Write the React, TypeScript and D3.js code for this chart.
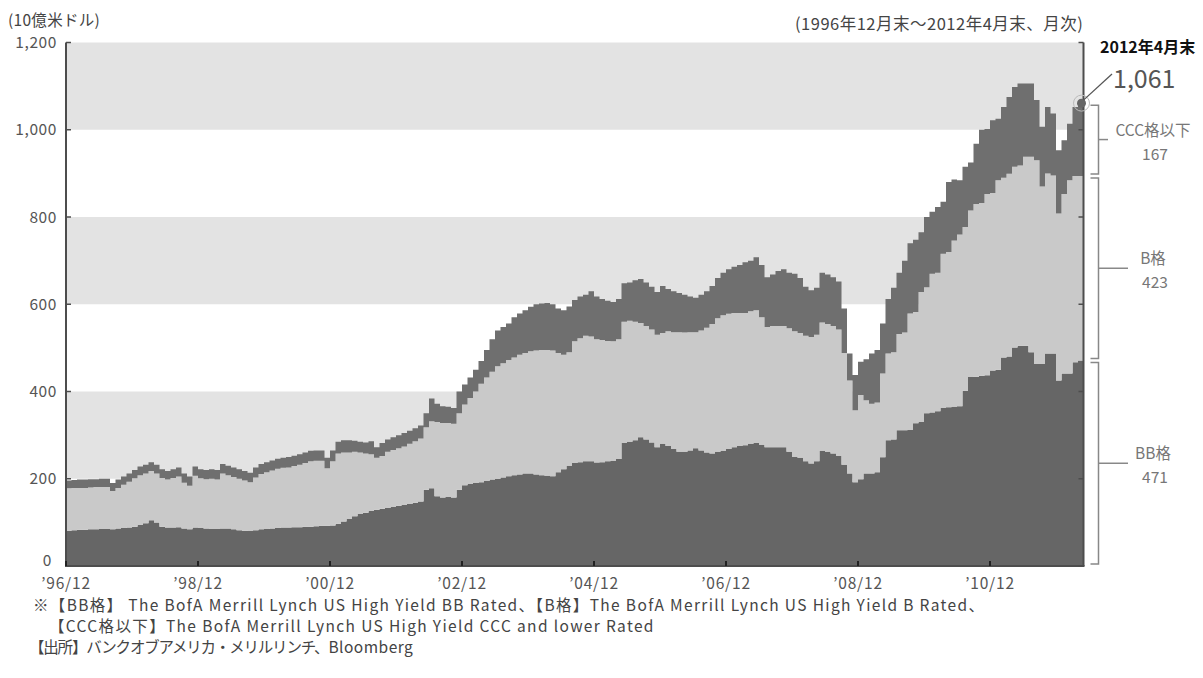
import * as d3 from "d3";

// 月次データ（1996年12月末〜2012年4月末）, 単位: 10億米ドル
const BB = [
  81, 82, 83, 83, 84, 84, 85, 85, 84, 86, 87, 88, 90,
  94, 98, 105, 100, 90, 88, 88, 89, 86, 84, 88, 87,
  86, 85, 85, 86, 86, 84, 82, 81, 80, 82, 84, 85,
  86, 87, 88, 88, 89, 89, 90, 90, 91, 92, 92, 93,
  97, 102, 108, 114, 119, 122, 126, 129, 131, 133, 135, 138,
  140, 142, 145, 148, 175, 178, 160, 157, 158, 157, 175, 185,
  188, 190, 192, 195, 198, 200, 203, 206, 208, 210, 212, 212,
  210, 208, 207, 206, 215, 222, 230, 236, 238, 240, 240, 237,
  238, 240, 241, 245, 282, 285, 288, 295, 290, 283, 272, 280,
  275, 268, 262, 262, 265, 270, 265, 260, 258, 262, 264, 268,
  272, 275, 277, 280, 282, 278, 272, 272, 272, 272, 262, 250,
  248, 240, 235, 240, 264, 262, 258, 252, 232, 212, 192, 199,
  212, 212, 215, 249, 288, 290, 311, 311, 312, 327, 330, 350,
  352, 355, 362, 364, 365, 366, 402, 433, 434, 436, 437, 448,
  450, 478, 480, 501, 505, 505, 490, 463, 463, 487, 487, 425,
  441, 441, 467, 471,
];
const B = [
  97, 97, 96, 96, 96, 97, 96, 96, 88, 93, 99, 105, 111,
  114, 114, 113, 112, 112, 110, 114, 116, 105, 100, 119, 114,
  113, 115, 113, 126, 122, 120, 118, 115, 112, 121, 127, 130,
  133, 136, 137, 138, 140, 143, 146, 150, 150, 149, 132, 147,
  161, 158, 152, 148, 141, 136, 130, 119, 121, 129, 131, 132,
  134, 138, 141, 144, 143, 154, 170, 171, 170, 169, 175, 185,
  197, 210, 226, 237, 247, 258, 262, 266, 270, 274, 276, 280,
  284, 287, 288, 288, 273, 262, 260, 279, 284, 288, 286, 283,
  280, 276, 274, 275, 278, 277, 272, 262, 260, 259, 258, 254,
  263, 268, 274, 273, 271, 266, 275, 286, 297, 306, 311, 310,
  308, 305, 303, 304, 304, 292, 276, 278, 278, 278, 283, 288,
  286, 288, 290, 290, 294, 293, 292, 290, 256, 213, 165, 193,
  168, 160, 160, 192, 199, 200, 221, 224, 267, 255, 298, 289,
  318, 317, 354, 356, 381, 394, 375, 382, 396, 396, 416, 407,
  434, 412, 419, 414, 413, 433, 448, 467, 407, 413, 408, 383,
  412, 443, 427, 423,
];
const CCC = [
  18, 18, 19, 19, 19, 18, 19, 19, 18, 19, 19, 19, 19,
  20, 20, 20, 20, 20, 20, 20, 21, 21, 21, 21, 21,
  21, 22, 22, 22, 22, 22, 22, 22, 22, 23, 23, 23,
  23, 23, 23, 24, 24, 24, 24, 24, 24, 24, 24, 25,
  27, 28, 28, 25, 25, 25, 30, 24, 30, 28, 29, 30,
  31, 30, 30, 30, 32, 52, 42, 38, 37, 36, 50, 46,
  47, 50, 52, 63, 75, 82, 83, 84, 92, 95, 98, 102,
  106, 107, 108, 106, 102, 102, 105, 95, 96, 94, 104, 98,
  94, 92, 90, 92, 88, 88, 95, 101, 100, 98, 98, 108,
  97, 94, 90, 87, 82, 79, 82, 84, 87, 92, 97, 102,
  106, 110, 116, 116, 122, 120, 114, 118, 126, 130, 127, 132,
  126, 112, 107, 108, 114, 113, 112, 110, 102, 62, 81, 76,
  94, 115, 120, 115, 125, 148, 140, 165, 161, 166, 137, 161,
  142, 151, 119, 160, 140, 124, 138, 110, 138, 168, 149, 167,
  141, 162, 176, 183, 188, 168, 168, 138, 137, 152, 142, 145,
  123, 130, 158, 167,
];

const SERIES_KEYS = ["bb", "b", "ccc"] as const;
const SERIES_NAMES = ["BB格", "B格", "CCC格以下"];
const SERIES_COLORS = ["#666666", "#c9c9c9", "#6f6f6f"];

const Y_TICKS = [0, 200, 400, 600, 800, 1000, 1200];
const Y_LABELS = ["0", "200", "400", "600", "800", "1,000", "1,200"];
const BANDS: [number, number][] = [[200, 400], [600, 800], [1000, 1200]];
const X_TICKS = [0, 24, 48, 72, 96, 120, 144, 168];
const X_LABELS = ["’96/12", "’98/12", "’00/12", "’02/12", "’04/12", "’06/12", "’08/12", "’10/12"];

const UNIT = "(10億米ドル)";
const PERIOD = "(1996年12月末～2012年4月末、月次)";
const LAST_LABEL = "2012年4月末";
const NOTES = [
  "※【BB格】 The BofA Merrill Lynch US High Yield BB Rated、【B格】The BofA Merrill Lynch US High Yield B Rated、",
  "【CCC格以下】The BofA Merrill Lynch US High Yield CCC and lower Rated",
];
const SOURCE_JA = "【出所】バンクオブアメリカ・メリルリンチ、";
const SOURCE_EN = "Bloomberg";

const FONT = "'Noto Sans CJK JP', 'Noto Sans', sans-serif";
const W = 1203;
const H = 678;
const AXIS = "#4d4d4d";

type Row = { i: number; bb: number; b: number; ccc: number };

export default function App() {
  const n = BB.length;
  const rows: Row[] = BB.map((v, i) => ({ i, bb: v, b: B[i], ccc: CCC[i] }));
  // 最終月の階段を右端まで伸ばすための終端
  rows.push({ ...rows[n - 1], i: n });

  const x = d3.scaleLinear().domain([0, n]).range([66, 1083.5]);
  const y = d3.scaleLinear().domain([0, 1200]).range([566, 42.5]);
  const x0 = x(0);
  const x1 = x(n);

  const stacked = d3.stack<Row>().keys(SERIES_KEYS as unknown as string[])(rows);
  const area = d3
    .area<d3.SeriesPoint<Row>>()
    .x((d) => x(d.data.i))
    .y0((d) => y(d[0]))
    .y1((d) => y(d[1]))
    .curve(d3.curveStepAfter);

  const last = rows[n - 1];
  const total = last.bb + last.b + last.ccc;
  const segs = [
    { lo: 0, hi: last.bb, v: last.bb, name: SERIES_NAMES[0], tick: 1128 },
    { lo: last.bb, hi: last.bb + last.b, v: last.b, name: SERIES_NAMES[1], tick: 1128 },
    { lo: last.bb + last.b, hi: total, v: last.ccc, name: SERIES_NAMES[2], tick: 1108 },
  ];
  const bx = 1098.5;

  return (
    <svg
      width={W}
      height={H}
      style={{ position: "absolute", left: 0, top: 0, background: "#fff" }}
      fontFamily={FONT}
    >
      {/* 背景の帯 */}
      {BANDS.map(([lo, hi]) => (
        <rect key={lo} x={x0} y={y(hi)} width={x1 - x0} height={y(lo) - y(hi)} fill="#e3e3e3" />
      ))}

      {/* 積み上げ面 */}
      {stacked.map((s, k) => (
        <path key={s.key} d={area(s) ?? ""} fill={SERIES_COLORS[k]} />
      ))}

      {/* 軸 */}
      <line x1={x0} x2={x0} y1={y(1200)} y2={y(0)} stroke={AXIS} strokeWidth={2} />
      <line x1={x1} x2={x1} y1={y(1200)} y2={y(0)} stroke={AXIS} strokeWidth={2} />
      <line x1={x0 - 1} x2={x1 + 1} y1={y(0)} y2={y(0)} stroke={AXIS} strokeWidth={2} />
      {Y_TICKS.map((t) => (
        <g key={t}>
          <line x1={x0} x2={x0 + 5} y1={y(t)} y2={y(t)} stroke={AXIS} strokeWidth={1.5} />
          <line x1={x1} x2={x1 - 5} y1={y(t)} y2={y(t)} stroke={AXIS} strokeWidth={1.5} />
        </g>
      ))}
      {X_TICKS.map((t) => (
        <line key={t} x1={x(t)} x2={x(t)} y1={y(0)} y2={y(0) - 5} stroke="#222" strokeWidth={2} />
      ))}

      {/* 目盛りラベル */}
      {Y_TICKS.map((t, k) => (
        <text
          key={t}
          x={t === 0 ? 52 : 57}
          y={y(t) + (t === 0 ? 0 : 5.5)}
          textAnchor="end"
          fontSize={15.5}
          letterSpacing={0.6}
          fill="#555"
        >
          {Y_LABELS[k]}
        </text>
      ))}
      {X_TICKS.map((t, k) => (
        <text
          key={t}
          x={x(t)}
          y={589}
          textAnchor="middle"
          fontSize={15.5}
          letterSpacing={0.8}
          fill="#555"
        >
          {X_LABELS[k]}
        </text>
      ))}

      {/* 見出し */}
      <text x={8} y={26} fontSize={15.5} letterSpacing={0.3} fill="#444">{UNIT}</text>
      <text x={795} y={30} fontSize={16.5} letterSpacing={0.5} fill="#444">{PERIOD}</text>

      {/* 直近値 */}
      <circle cx={x1 - 2} cy={y(total)} r={8} fill="none" stroke="#bbb" strokeWidth={1} />
      <circle cx={x1 - 2} cy={y(total)} r={4.5} fill="#666" />
      <line x1={x1} y1={y(total) - 3} x2={1112} y2={74} stroke="#555" strokeWidth={1.3} />
      <text x={1100} y={53} fontSize={16} fontWeight="bold" fill="#111">{LAST_LABEL}</text>
      <text x={1113} y={88} fontSize={25} fill="#555">{d3.format(",")(total)}</text>

      {/* 右側の括弧 */}
      {segs.map((s) => {
        const top = y(s.hi) + 2;
        const bot = y(s.lo) - 2;
        const mid = (top + bot) / 2;
        return (
          <g key={s.name}>
            <path
              d={`M${bx - 8},${top}H${bx}V${bot}H${bx - 8}`}
              fill="none"
              stroke="#888"
              strokeWidth={1.5}
            />
            <line x1={bx} x2={s.tick} y1={mid} y2={mid} stroke="#888" strokeWidth={1.5} />
            <text x={1153} y={mid - 4} textAnchor="middle" fontSize={15.5} fill="#777">{s.name}</text>
            <text x={1155} y={mid + 20} textAnchor="middle" fontSize={15.5} fill="#777">{s.v}</text>
          </g>
        );
      })}

      {/* 注記 */}
      <text x={33} y={611} fontSize={15.5} letterSpacing={1.35} fill="#444">{NOTES[0]}</text>
      <text x={49} y={632} fontSize={15.5} letterSpacing={1.35} fill="#444">{NOTES[1]}</text>
      <text x={29} y={653} fontSize={15.5} fill="#444">
        <tspan letterSpacing={-1.2}>{SOURCE_JA}</tspan>
        <tspan letterSpacing={0.5}>{SOURCE_EN}</tspan>
      </text>
    </svg>
  );
}
